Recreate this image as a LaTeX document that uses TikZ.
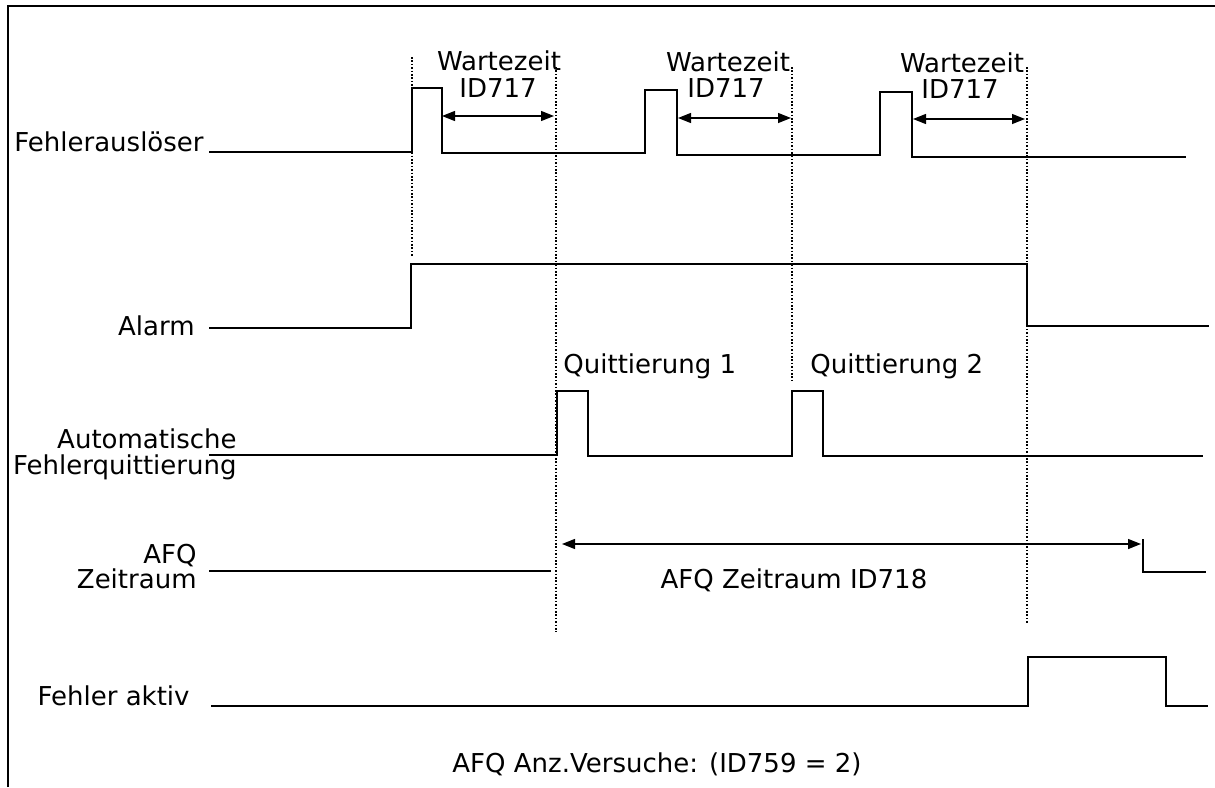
\documentclass[tikz,border=0pt]{standalone}
\usepackage{fontspec}
\setmainfont{DejaVu Sans}
\usetikzlibrary{arrows.meta}

\begin{document}
\begin{tikzpicture}[x=0.5pt,y=-0.5pt,
lbl/.style={font=\fontsize{13}{15}\selectfont,inner sep=0pt},
sig/.style={line width=0.8pt},
guide/.style={dash pattern=on 0.8pt off 0.9pt,line width=0.6pt},
dim/.style={{Triangle[length=6.5pt,width=5pt]}-{Triangle[length=6.5pt,width=5pt]},line width=0.7pt} ]

\useasboundingbox (0,0) rectangle (1215,787);

% frame
\draw[line width=0.8pt] (8,787) -- (8,6) -- (1215,6);

% time marks
\coordinate (t1) at (412,57);
\coordinate (t2) at (556,67);
\coordinate (t3) at (792,67);
\coordinate (t4) at (1027,67);

\draw[guide] (t1) -- (412,257);
\draw[guide] (t2) -- (556,632);
\draw[guide] (t3) -- (792,380);
\draw[guide] (t4) -- (1027,624);

% signal names
\node[lbl,anchor=base east] (trig) at (204,151) {Fehlerauslöser};
\node[lbl,anchor=base east] (alarm) at (195,335) {Alarm};
\node[lbl,anchor=base east] (reset) at (237,448) {Automatische};
\node[lbl,anchor=base east] (resetb) at (237,474) {Fehlerquittierung};
\node[lbl,anchor=base east] (afq) at (197,563) {AFQ};
\node[lbl,anchor=base east] (afqb) at (197,588) {Zeitraum};
\node[lbl,anchor=base east] (fault) at (190,705) {Fehler aktiv};

% Fehlerausloeser
\draw[sig] (209,152) -- (412,152) -- (412,88) -- (442,88) -- (442,153) -- (645,153) -- (645,90) -- (677,90) -- (677,155)
  -- (880,155) -- (880,92) -- (912,92) -- (912,157) -- (1186,157);

\coordinate (w1a) at (442,116);
\coordinate (w1b) at (554,116);
\coordinate (w2a) at (678,118);
\coordinate (w2b) at (791,118);
\coordinate (w3a) at (913,119);
\coordinate (w3b) at (1025,119);

\draw[dim] (w1a) -- (w1b);
\draw[dim] (w2a) -- (w2b);
\draw[dim] (w3a) -- (w3b);

\node[lbl,anchor=base] (wt1) at (499,70) {Wartezeit};
\node[lbl,anchor=base] (id1) at (498,97) {ID717};
\node[lbl,anchor=base] (wt2) at (728,71) {Wartezeit};
\node[lbl,anchor=base] (id2) at (726,97) {ID717};
\node[lbl,anchor=base] (wt3) at (962,72) {Wartezeit};
\node[lbl,anchor=base] (id3) at (960,98) {ID717};

% Alarm
\draw[sig] (209,328) -- (411,328) -- (411,264) -- (1027,264) -- (1027,326) -- (1209,326);

% Quittierung
\draw[sig] (209,455) -- (557,455) -- (557,391) -- (588,391) -- (588,456) -- (792,456) -- (792,391) -- (823,391) -- (823,456) -- (1203,456);

\node[lbl,anchor=base west] (q1) at (563,373) {Quittierung 1};
\node[lbl,anchor=base west] (q2) at (810,373) {Quittierung 2};

% AFQ Zeitraum
\draw[sig] (209,571) -- (551,571);
\draw[sig] (1143,539) -- (1143,572) -- (1206,572);

\coordinate (pa) at (562,544);
\coordinate (pb) at (1141,544);
\draw[dim] (pa) -- (pb);
\node[lbl,anchor=base] (period) at (794,588) {AFQ Zeitraum ID718};

% Fehler aktiv
\draw[sig] (211,706) -- (1028,706) -- (1028,657) -- (1166,657) -- (1166,706) -- (1208,706);

\node[lbl,anchor=base] (tries) at (657,772) {AFQ Anz.Versuche: (ID759 = 2)};

\end{tikzpicture}
\end{document}
